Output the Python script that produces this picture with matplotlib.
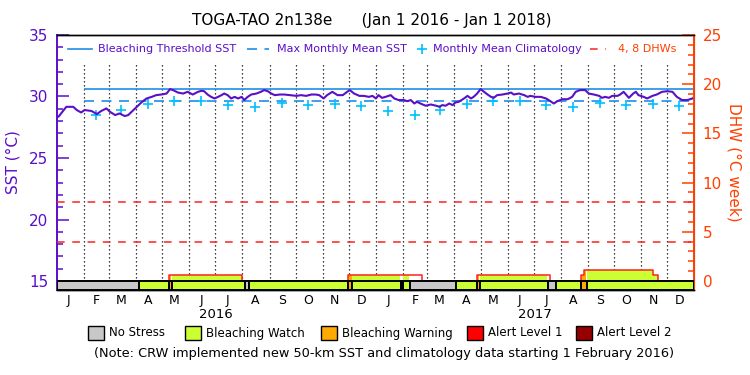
import matplotlib
matplotlib.use('Agg')

import matplotlib.pyplot as plt
import matplotlib.dates as mdates
import numpy as np

plt.rcParams['font.family'] = 'DejaVu Sans'

# --- data (days counted from 2016-01-01) ---
sst_days = [0, 2, 5, 11, 19, 23, 28, 32, 40, 46,
            51, 57, 61, 67, 72, 78, 82, 90, 97, 103,
            109, 114, 120, 126, 130, 134, 139, 145, 150, 156,
            162, 166, 169, 173, 177, 181, 185, 189, 192, 196,
            200, 204, 208, 212, 215, 219, 223, 229, 234, 238,
            242, 246, 250, 256, 261, 267, 275, 280, 286, 292,
            297, 301, 306, 310, 316, 322, 328, 333, 336, 341,
            347, 352, 358, 362, 366, 369, 373, 377, 383, 387,
            392, 398, 402, 406, 410, 413, 417, 423, 429, 435,
            439, 442, 446, 450, 454, 457, 461, 467, 471, 475,
            478, 482, 486, 490, 494, 498, 501, 505, 511, 517,
            521, 524, 530, 536, 540, 543, 549, 555, 561, 566,
            570, 574, 580, 586, 591, 595, 600, 606, 610, 616,
            622, 625, 629, 633, 637, 643, 646, 650, 656, 661,
            664, 667, 673, 677, 683, 688, 694, 700, 706, 711,
            717, 723, 729, 731]
sst_vals = [28.40, 28.35, 28.62, 29.16, 29.16, 28.90, 28.70, 28.90, 28.82, 28.57,
            28.82, 29.03, 28.76, 28.49, 28.62, 28.41, 28.49, 29.03, 29.51, 29.84,
            29.97, 30.11, 30.16, 30.24, 30.60, 30.50, 30.32, 30.24, 30.38, 30.16,
            30.38, 30.46, 30.43, 30.16, 29.97, 29.84, 29.97, 30.11, 30.24, 30.11,
            29.84, 29.97, 29.84, 29.97, 29.71, 29.97, 30.16, 30.24, 30.38, 30.52,
            30.43, 30.24, 30.11, 30.16, 30.16, 30.11, 30.05, 30.11, 30.05, 30.16,
            30.16, 30.11, 29.84, 30.11, 30.38, 30.11, 30.11, 30.38, 30.52, 30.24,
            30.05, 30.05, 29.97, 30.05, 29.84, 30.11, 29.89, 29.97, 30.11, 29.84,
            29.71, 29.71, 29.62, 29.71, 29.43, 29.57, 29.43, 29.25, 29.35, 29.25,
            29.16, 29.30, 29.25, 29.43, 29.30, 29.51, 29.57, 29.84, 30.05, 29.84,
            29.97, 30.24, 30.60, 30.38, 30.16, 29.97, 29.89, 30.11, 30.16, 30.24,
            30.32, 30.16, 30.24, 30.11, 29.97, 30.05, 29.97, 29.97, 29.84, 29.62,
            29.43, 29.62, 29.78, 29.78, 29.97, 30.38, 30.52, 30.52, 30.24, 30.16,
            30.05, 29.89, 29.97, 29.89, 30.05, 30.05, 30.16, 30.38, 29.89, 30.24,
            30.38, 30.11, 29.97, 29.84, 30.05, 30.16, 30.38, 30.43, 30.38, 29.97,
            29.71, 29.71, 29.84, 29.97]

# monthly mean climatology, Jan..Dec
clim = [28.82, 28.49, 28.90, 29.40, 29.62, 29.62, 29.30, 29.15, 29.50, 29.30, 29.43, 29.25]
mmm = 29.62
threshold = 30.62

# stress level strip: 0 no stress, 1 watch, 2 warning, 3 alert 1, 4 alert 2
stress_start = ['2016-01-01', '2016-04-04', '2016-05-09', '2016-05-12', '2016-08-04',
                '2016-08-08', '2016-11-30', '2016-12-05', '2017-01-30', '2017-02-01',
                '2017-02-09', '2017-04-03', '2017-04-27', '2017-04-30', '2017-07-17',
                '2017-07-26', '2017-08-24', '2017-08-31']
stress_level = [0, 1, 2, 1, 0, 1, 2, 1, 0, 1, 0, 1, 2, 1, 0, 1, 2, 1]

# degree heating weeks (step changes)
dhw_dates = ['2016-01-01', '2016-05-09', '2016-08-01', '2016-11-30', '2017-02-23',
             '2017-04-27', '2017-07-20', '2017-08-24', '2017-08-27', '2017-11-15',
             '2017-11-20', '2018-01-01']
dhw_vals = [0, 0.6, 0, 0.6, 0, 0.6, 0, 0.6, 1.1, 0.65, 0, 0]

month_letters = ['J', 'F', 'M', 'A', 'M', 'J', 'J', 'A', 'S', 'O', 'N', 'D']
years = [2016, 2017]
level_names = ['No Stress', 'Bleaching Watch', 'Bleaching Warning', 'Alert Level 1', 'Alert Level 2']
level_colors = ['#c8c8c8', '#ccff33', '#ffaa00', '#ff0000', '#960000']

purple = '#5a0fc8'
blue = '#1e8ee6'
cyan = '#00c0ff'
orange = '#ff4000'
red = '#ff2020'

t0 = np.datetime64('2016-01-01')
t_end = np.datetime64('2018-01-01')

def dnum(d):
    return mdates.date2num(np.array(d, dtype='datetime64[D]'))

sst_x = dnum(t0 + np.array(sst_days).astype('timedelta64[D]'))
month_starts = np.arange(np.datetime64('2016-01'), np.datetime64('2018-02'), np.timedelta64(1, 'M')).astype('datetime64[D]')
mid_months = month_starts[:-1] + np.timedelta64(14, 'D')

fig = plt.figure(figsize=(7.5, 3.75), dpi=100)
ax = fig.add_axes([0.0756, 0.2267, 0.8501, 0.68])
ax2 = ax.twinx()

ax.set_xlim(dnum(t0), dnum(t_end))
ax.set_ylim(14.27, 35)
ax2.set_ylim(-0.92, 25)

# month boundaries
ax.vlines(dnum(month_starts[1:-1]), 14.27, 32.72, colors='black',
          linestyles=(0, (1, 2.2)), lw=0.9, zorder=1)

# bleaching threshold & MMM (new climatology from 1 Feb 2016)
feb1 = dnum(np.datetime64('2016-02-01'))
ax.hlines(threshold, feb1, dnum(t_end), colors=blue, lw=1.2, zorder=2)
ax.hlines(mmm, feb1, dnum(t_end), colors=blue, lw=1.2, linestyles=(0, (6, 4.5)), zorder=2)

# climatology markers, Feb 2016 .. Dec 2017
clim_x = dnum(mid_months[1:24])
clim_y = [clim[i % 12] for i in range(1, 24)]
ax.plot(clim_x, clim_y, '+', color=cyan, ms=7, mew=1.2, zorder=3)

ax.plot(sst_x, sst_vals, color=purple, lw=1.5, zorder=4)

# DHW 4 & 8 lines
ax2.axhline(4, color=red, lw=1.1, ls=(0, (5, 5)), zorder=2)
ax2.axhline(8, color=red, lw=1.1, ls=(0, (5, 5)), zorder=2)

# DHW area coloured by stress level
days = np.arange(t0, t_end + np.timedelta64(1, 'D'))
dhw_idx = np.searchsorted(np.array(dhw_dates, dtype='datetime64[D]'), days, side='right') - 1
dhw_daily = np.array(dhw_vals)[dhw_idx]
st_idx = np.searchsorted(np.array(stress_start, dtype='datetime64[D]'), days, side='right') - 1
lvl_daily = np.array(stress_level)[st_idx]
for k in range(1, 5):
    ax2.fill_between(dnum(days), 0, dhw_daily, where=lvl_daily == k, step='post',
                     color=level_colors[k], lw=0, zorder=3)
ax2.step(dnum(dhw_dates), dhw_vals, where='post', color=red, lw=1.1, zorder=4)

# stress strip
starts = dnum(stress_start)
ends = np.append(starts[1:], dnum(t_end))
ax2.bar(starts, 0.92, width=ends - starts, bottom=-0.92, align='edge',
        color=[level_colors[l] for l in stress_level], edgecolor='black', lw=1.4, zorder=5)

# axes styling
ax.spines['left'].set_color(purple)
ax.spines['left'].set_linewidth(1.4)
ax2.spines['left'].set_visible(False)
ax2.spines['right'].set_color(orange)
ax2.spines['right'].set_linewidth(1.4)
for a in (ax, ax2):
    a.spines['top'].set_linewidth(1.0)
    a.spines['bottom'].set_linewidth(1.0)

ax.set_yticks([15, 20, 25, 30, 35])
ax.set_yticks(np.arange(15, 36, 1), minor=True)
ax.tick_params(axis='y', which='major', direction='in', length=8.5, width=1.1,
               color=purple, labelcolor=purple, labelsize=11, pad=6)
ax.tick_params(axis='y', which='minor', direction='in', length=4.5, width=1.1, color=purple)
ax2.set_yticks([0, 5, 10, 15, 20, 25])
ax2.set_yticks(np.arange(0, 26, 1), minor=True)
ax2.tick_params(axis='y', which='major', direction='in', length=8.5, width=1.1,
                color=orange, labelcolor=orange, labelsize=11, pad=6)
ax2.tick_params(axis='y', which='minor', direction='in', length=4.5, width=1.1, color=orange)

ax.set_xticks(dnum(mid_months[:24]))
ax.set_xticklabels(month_letters * 2)
ax.tick_params(axis='x', length=0, labelsize=9, pad=3)
ax2.tick_params(axis='x', length=0)
for i, yr in enumerate(years):
    xc = dnum(np.datetime64(f'{yr}-07-02'))
    ax.text(xc, -0.095, str(yr), transform=ax.get_xaxis_transform(),
            ha='center', va='center', fontsize=9.5)

ax.set_ylabel('SST (°C)', color=purple, fontsize=11, labelpad=6)
ax2.set_ylabel('DHW (°C week)', color=orange, fontsize=11, rotation=270, labelpad=14)

fig.text(0.496, 0.945, 'TOGA-TAO 2n138e      (Jan 1 2016 - Jan 1 2018)',
         ha='center', va='center', fontsize=11)

# legend inside plot (positions in axes fraction)
def px(x):
    return (x - 56.7) / 637.6

ly = 0.945
ax.plot([px(68), px(92)], [ly, ly], transform=ax.transAxes, color=blue, lw=1.2)
ax.text(px(98), ly, 'Bleaching Threshold SST', transform=ax.transAxes,
        color=purple, fontsize=8, va='center')
ax.plot([px(247), px(269)], [ly, ly], transform=ax.transAxes, color=blue, lw=1.2,
        ls=(0, (6, 4.5)))
ax.text(px(277), ly, 'Max Monthly Mean SST', transform=ax.transAxes,
        color=purple, fontsize=8, va='center')
ax.plot([px(421.7)], [ly], '+', transform=ax.transAxes, color=cyan, ms=7, mew=1.2)
ax.text(px(433), ly, 'Monthly Mean Climatology', transform=ax.transAxes,
        color=purple, fontsize=8, va='center')
ax.plot([px(590), px(606)], [ly, ly], transform=ax.transAxes, color=red, lw=1.1,
        ls=(0, (5, 5)))
ax.text(px(618), ly, '4, 8 DHWs', transform=ax.transAxes,
        color=orange, fontsize=8, va='center')

# stress legend below
box_x = [88, 185, 321, 467, 576]
for bx, name, c in zip(box_x, level_names, level_colors):
    fig.patches.append(plt.Rectangle((bx / 750, 1 - 340 / 375), 16 / 750, 14 / 375,
                                     transform=fig.transFigure, facecolor=c,
                                     edgecolor='black', lw=1))
    fig.text((bx + 21) / 750, 1 - 333 / 375, name, fontsize=8.5, va='center')

fig.text(0.512, 1 - 354 / 375,
         '(Note: CRW implemented new 50-km SST and climatology data starting 1 February 2016)',
         ha='center', va='center', fontsize=9.3)

fig.savefig('out.png', dpi=100)
plt.close(fig)
